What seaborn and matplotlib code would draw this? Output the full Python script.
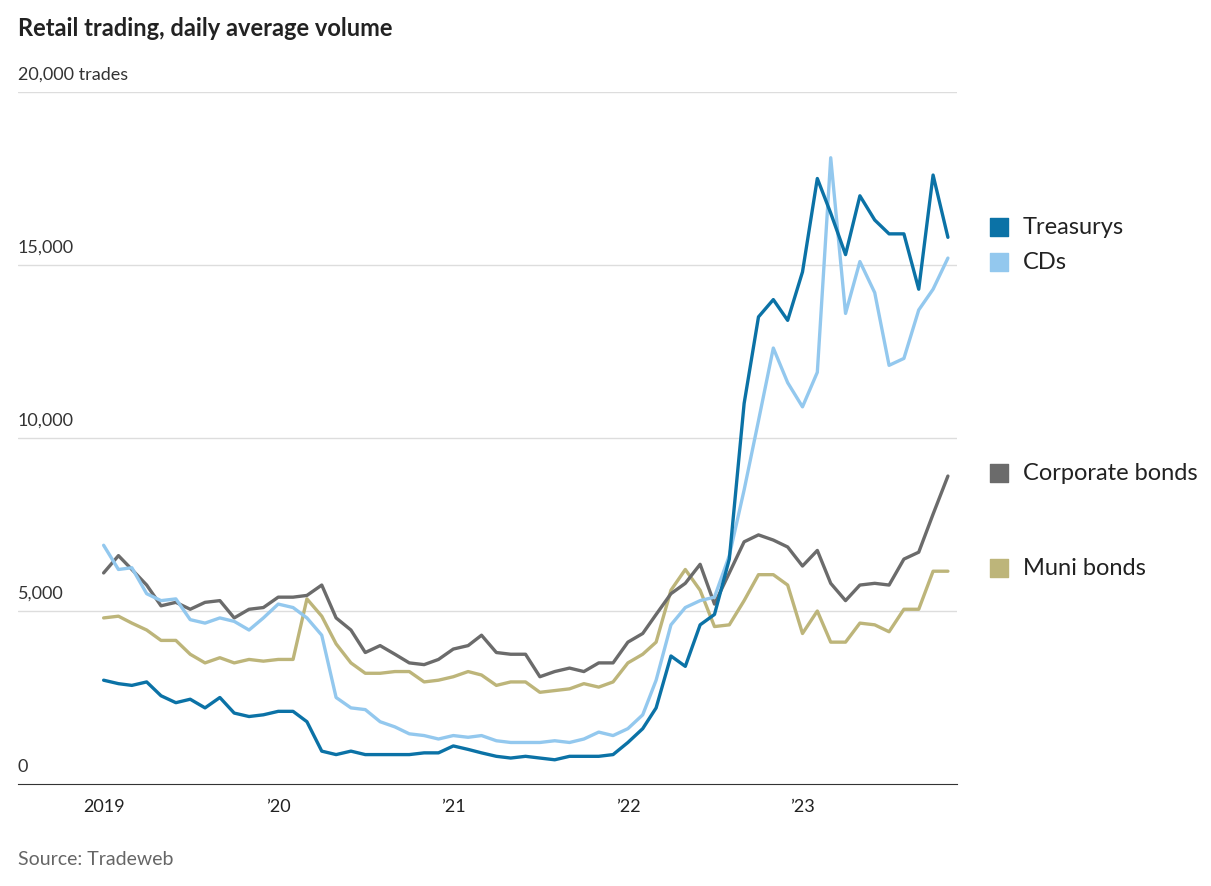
import matplotlib
matplotlib.use("Agg")
import matplotlib.pyplot as plt
import matplotlib.dates as mdates
import seaborn as sns
import pandas as pd
import numpy as np

months = pd.date_range("2019-01-01", periods=59, freq="MS")
treasurys = [3.0,2.9,2.85,2.95,2.55,2.35,2.45,2.2,2.5,2.05,1.95,2.0,
             2.1,2.1,1.8,0.95,0.85,0.95,0.85,0.85,0.85,0.85,0.9,0.9,
             1.1,1.0,0.9,0.8,0.75,0.8,0.75,0.7,0.8,0.8,0.8,0.85,
             1.2,1.6,2.2,3.7,3.4,4.6,4.9,6.5,11.0,13.5,14.0,13.4,
             14.8,17.5,16.5,15.3,17.0,16.3,15.9,15.9,14.3,17.6,15.8]
cds = [6.9,6.2,6.25,5.5,5.3,5.35,4.75,4.65,4.8,4.7,4.45,4.8,
       5.2,5.1,4.8,4.3,2.5,2.2,2.15,1.8,1.65,1.45,1.4,1.3,
       1.4,1.35,1.4,1.25,1.2,1.2,1.2,1.25,1.2,1.3,1.5,1.4,
       1.6,2.0,3.0,4.6,5.1,5.3,5.4,6.6,8.5,10.5,12.6,11.6,
       10.9,11.9,18.1,13.6,15.1,14.2,12.1,12.3,13.7,14.3,15.2]
corporate = [6.1,6.6,6.2,5.75,5.15,5.25,5.05,5.25,5.3,4.8,5.05,5.1,
             5.4,5.4,5.45,5.75,4.8,4.45,3.8,4.0,3.75,3.5,3.45,3.6,
             3.9,4.0,4.3,3.8,3.75,3.75,3.1,3.25,3.35,3.25,3.5,3.5,
             4.1,4.35,4.9,5.5,5.8,6.35,5.2,6.1,7.0,7.2,7.05,6.85,
             6.3,6.75,5.8,5.3,5.75,5.8,5.75,6.5,6.7,7.8,8.9]
muni = [4.8,4.85,4.65,4.45,4.15,4.15,3.75,3.5,3.65,3.5,3.6,3.55,
        3.6,3.6,5.35,4.85,4.05,3.5,3.2,3.2,3.25,3.25,2.95,3.0,
        3.1,3.25,3.15,2.85,2.95,2.95,2.65,2.7,2.75,2.9,2.8,2.95,
        3.5,3.75,4.1,5.6,6.2,5.6,4.55,4.6,5.3,6.05,6.05,5.75,
        4.35,5.0,4.1,4.1,4.65,4.6,4.4,5.05,5.05,6.15,6.15]
series_names = ["Treasurys", "CDs", "Corporate bonds", "Muni bonds"]
colors = ["#0b72a6", "#93c8ee", "#6b6b6b", "#bdb57a"]
legend_y = [16100, 15100, 9000, 6250]
y_ticks = [0, 5000, 10000, 15000, 20000]
y_labels = ["0", "5,000", "10,000", "15,000", "20,000 trades"]
x_labels = ["2019", "’20", "’21", "’22", "’23"]

df = pd.DataFrame({"date": np.tile(months, 4),
                   "value": np.array(treasurys + cds + corporate + muni) * 1000,
                   "series": np.repeat(series_names, 59)})

sns.set_style("white")
plt.rcParams["font.family"] = ["Lato", "DejaVu Sans"]
fig = plt.figure(figsize=(12.11, 8.87), dpi=100)
ax = fig.add_axes([18/1211, 1-785/887, (957-18)/1211, (785-93)/887])
# draw in reverse order so Treasurys on top
for name, c in list(zip(series_names, colors))[::-1]:
    sns.lineplot(data=df[df.series == name], x="date", y="value", color=c,
                 linewidth=2.4, ax=ax, legend=False)

ax.set_ylim(0, 20000)
ax.set_xlim(pd.Timestamp("2018-07-06"), pd.Timestamp("2023-11-20"))
ax.set_yticks(y_ticks)
ax.set_yticklabels([])
ax.tick_params(axis="y", length=0)
for v in y_ticks[1:]:
    ax.axhline(v, color="#dddddd", lw=1, zorder=0)
for v, l in zip(y_ticks, y_labels):
    ax.text(0, v + 300, l, transform=ax.get_yaxis_transform(), ha="left",
            va="bottom", fontsize=13, color="#333333")
ax.set_xticks([pd.Timestamp(f"{y}-01-01") for y in range(2019, 2024)])
ax.set_xticklabels(x_labels, fontsize=13, color="#222222")
ax.tick_params(axis="x", length=6, width=1, color="#333333", direction="out", pad=4)
for s in ["top", "right", "left"]:
    ax.spines[s].set_visible(False)
ax.spines["bottom"].set_color("#333333")
ax.set_xlabel("")
ax.set_ylabel("")

for name, c, yv in zip(series_names, colors, legend_y):
    ax.scatter([1.045], [yv], transform=ax.get_yaxis_transform(), marker="s",
               s=150, color=c, clip_on=False)
    ax.text(1.07, yv, name, transform=ax.get_yaxis_transform(), va="center",
            ha="left", fontsize=17, color="#222222")

fig.text(18/1211, 1-28/887, "Retail trading, daily average volume", fontsize=17,
         fontweight="bold", color="#222222", va="center")
fig.text(18/1211, 1-860/887, "Source: Tradeweb", fontsize=14, color="#666666", va="center")
fig.savefig("out.png", dpi=100)
